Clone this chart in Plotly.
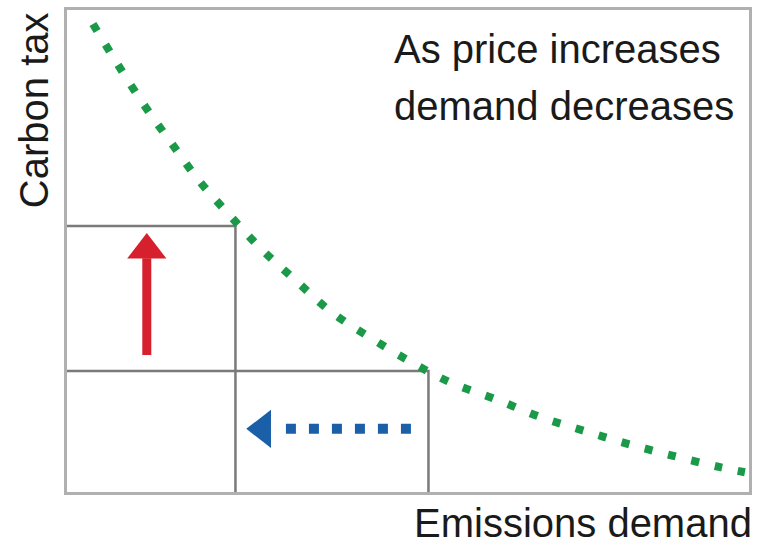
import plotly.graph_objects as go

# Demand curve (emissions demand vs carbon tax) (0-100 units)
curve_x = [3.8, 7.4, 11.2, 15.3, 19.3, 23.8, 28.5, 33.6, 38.8, 44.5, 50.4, 56.4, 62.8, 69.3, 75.8, 82.2, 88.9, 95.6, 99.4]
curve_y = [97.1, 88.8, 80.5, 72.4, 64.7, 57.5, 50.4, 43.8, 37.3, 32.0, 27.0, 22.6, 19.3, 15.6, 12.7, 10.0, 7.5, 5.2, 4.1]

# Two price/quantity points on the curve
point_qty = [24.7, 53.0]
point_tax = [55.2, 25.1]

# Arrows
red_arrow_x = [11.7, 11.7]
red_arrow_y = [28.4, 48.5]
red_head = (11.7, 50.2)
blue_arrow_x = [32.1, 50.6]
blue_arrow_y = [13.1, 13.1]
blue_head = (28.7, 13.1)

title_lines = ["As price increases", "demand decreases"]
x_label = "Emissions demand"
y_label = "Carbon tax"

fig = go.Figure()

gray = "#7a7a7a"
for q, t in zip(point_qty, point_tax):
    fig.add_trace(go.Scatter(x=[0, q, q], y=[t, t, 0], mode="lines",
                             line=dict(color=gray, width=2.5), hoverinfo="skip"))

fig.add_trace(go.Scatter(x=curve_x, y=curve_y, mode="lines",
                         line=dict(color="#1a9a48", width=8, dash="8px,16px", shape="spline"),
                         hoverinfo="skip"))

fig.add_trace(go.Scatter(x=red_arrow_x, y=red_arrow_y, mode="lines",
                         line=dict(color="#d7202e", width=9), hoverinfo="skip"))
fig.add_trace(go.Scatter(x=[red_head[0]], y=[red_head[1]], mode="markers",
                         marker=dict(symbol="triangle-up", size=34, color="#d7202e",
                                     line=dict(width=0)), hoverinfo="skip"))

fig.add_trace(go.Scatter(x=blue_arrow_x, y=blue_arrow_y, mode="lines",
                         line=dict(color="#1a5fa8", width=10, dash="10px,13px"), hoverinfo="skip"))
fig.add_trace(go.Scatter(x=[blue_head[0]], y=[blue_head[1]], mode="markers",
                         marker=dict(symbol="triangle-left", size=33, color="#1a5fa8",
                                     line=dict(width=0)), hoverinfo="skip"))

font = dict(family="Liberation Sans, Arial, sans-serif", size=40, color="#1a1a1a")

fig.add_annotation(x=0.476, y=(492 - 49) / 482, xref="paper", yref="paper",
                   text=title_lines[0], showarrow=False, xanchor="left", yanchor="middle", font=font)
fig.add_annotation(x=0.476, y=(492 - 106) / 482, xref="paper", yref="paper",
                   text=title_lines[1], showarrow=False, xanchor="left", yanchor="middle", font=font)
fig.add_annotation(x=1.0, y=(492 - 523) / 482, xref="paper", yref="paper", xshift=5,
                   text=x_label, showarrow=False, xanchor="right", yanchor="middle", font=font)
fig.add_annotation(x=(34 - 67) / 685, y=1.0, xref="paper", yref="paper",
                   text=y_label, showarrow=False, xanchor="center", yanchor="top",
                   textangle=-90, font=font)

axis_common = dict(showgrid=False, zeroline=False, showticklabels=False, ticks="",
                   showline=True, mirror=True, linecolor="#b0b0b0", linewidth=3, fixedrange=True)
fig.update_xaxes(range=[0, 100], **axis_common)
fig.update_yaxes(range=[0, 100], **axis_common)

fig.update_layout(width=758, height=545, margin=dict(l=67, r=6, t=10, b=53),
                  paper_bgcolor="white", plot_bgcolor="white", showlegend=False)

fig.write_html("out.html", config={"displayModeBar": False},
               post_script="document.body.style.margin='0';document.body.style.overflow='hidden';")
